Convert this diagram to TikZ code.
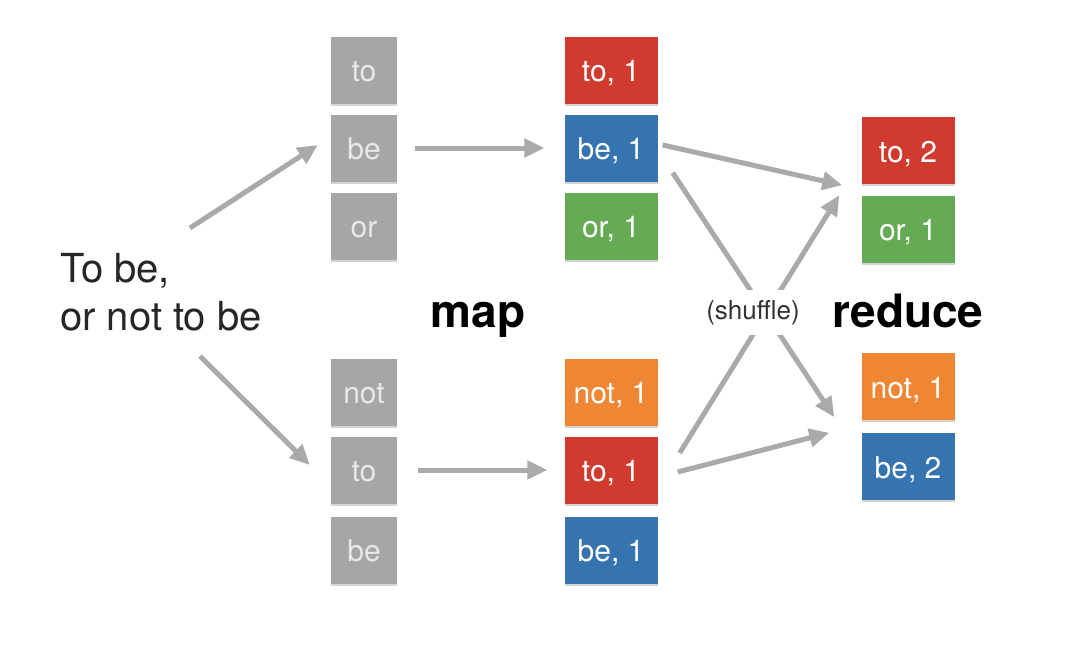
\documentclass[tikz,border=0pt]{standalone}
\usepackage{fontspec}
\setmainfont{TeX Gyre Heros}
\usepackage{tikz}
\usetikzlibrary{arrows.meta,shadows}

\definecolor{myred}{RGB}{209,58,46}
\definecolor{myblue}{RGB}{54,116,176}
\definecolor{mygreen}{RGB}{100,171,84}
\definecolor{myorange}{RGB}{238,134,51}
\definecolor{boxgray}{RGB}{166,166,166}
\definecolor{graytext}{RGB}{232,232,232}
\definecolor{arrowgray}{RGB}{170,170,170}

\tikzset{
 box/.style={inner sep=0pt, minimum height=67pt, text=white,
   font=\fontsize{30}{36}\selectfont, text height=23pt, text depth=0pt,
   drop shadow={shadow xshift=0pt, shadow yshift=-2pt, opacity=0.35}},
 graybox/.style={box, fill=boxgray, minimum width=66pt, text=graytext},
 keybox/.style={box, minimum width=93pt},
 arr/.style={draw=arrowgray, line width=5pt, -{Triangle[length=20pt,width=18pt]}},
}

\begin{document}
\begin{tikzpicture}
 \path[use as bounding box] (0,0) rectangle (109em,-66.4em);

\node[anchor=north west, inner sep=0pt, align=left, text=black!85,
  font=\fontsize{40}{48}\selectfont] (src) at (6em,-25.3em) {To be,\\or not to be};

\foreach \n/\t/\y in {gto/to/7, gbe/be/14.8, gor/or/22.6, gnot/not/39.2, gtoo/to/47, gbee/be/55}
	\node[graybox] (\n) at (36.4em,-\y em) {\t};

\foreach \n/\t/\c/\y in {cto/{to, 1}/myred/7, cbe/{be, 1}/myblue/14.8, cor/{or, 1}/mygreen/22.6,
  cnot/{not, 1}/myorange/39.2, ctoo/{to, 1}/myred/47, cbee/{be, 1}/myblue/55}
	\node[keybox, fill=\c] (\n) at (61.1em,-\y em) {\t};

\foreach \n/\t/\c/\y in {rto/{to, 2}/myred/15.05, ror/{or, 1}/mygreen/22.9,
  rnot/{not, 1}/myorange/38.65, rbe/{be, 2}/myblue/46.65}
	\node[keybox, fill=\c] (\n) at (90.8em,-\y em) {\t};

\draw[arr] ([xshift=2.9em,yshift=2.5em]src.north) -- ([xshift=-1.3em,yshift=0.3em]gbe.west);
\draw[arr] ([xshift=3.9em,yshift=-2.5em]src.south) -- ([xshift=-2.1em,yshift=0.5em]gtoo.west);
\draw[arr, shorten <=18pt, shorten >=20pt] (gbe) -- (cbe);
\draw[arr, shorten <=21pt, shorten >=17pt] (gtoo) -- (ctoo);

\draw[arr] ([xshift=0.5em,yshift=0.3em]cbe.east) -- ([xshift=-1.9em,yshift=-0.1em]rto.south west);
\draw[arr] ([xshift=1.5em,yshift=0.9em]cbe.south east) -- ([xshift=-2.7em,yshift=0.3em]rnot.south west);
\draw[arr] ([xshift=2.2em,yshift=1.7em]ctoo.east) -- ([xshift=-2.2em]ror.north west);
\draw[arr] ([xshift=2em,yshift=-0.2em]ctoo.east) -- ([xshift=-3.2em]rbe.north west);

\node[fill=white, inner xsep=2pt, inner ysep=10pt, anchor=base, text=black!80,
  font=\fontsize{26}{30}\selectfont] (shuffle) at (75.3em,-31.9em) {(shuffle)};

\node[anchor=base, font=\fontsize{46}{54}\selectfont\bfseries] (map) at (47.8em,-32.7em) {map};
\node[anchor=base, font=\fontsize{46}{54}\selectfont\bfseries] (reduce) at (90.8em,-32.7em) {reduce};

\end{tikzpicture}
\end{document}
